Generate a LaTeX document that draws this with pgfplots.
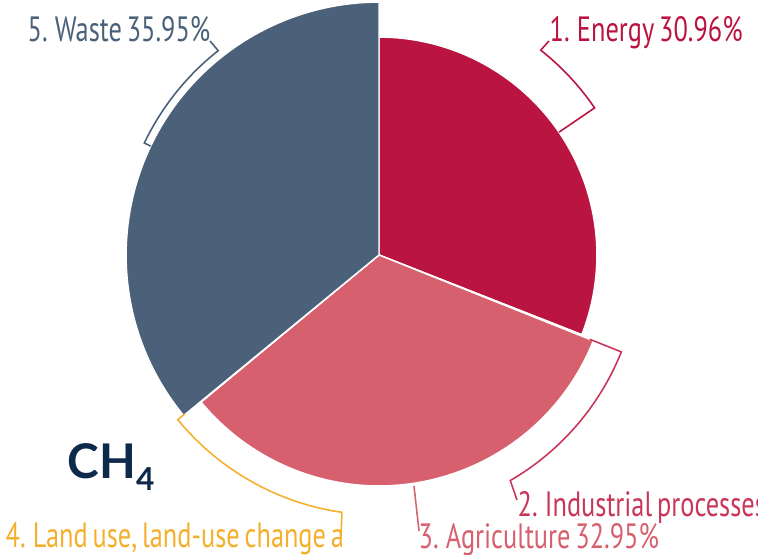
\documentclass[border=0pt]{standalone}
\usepackage{pgfplots}
\pgfplotsset{compat=1.18}
\usepackage{fontspec}
\setmainfont[FakeStretch=0.75, WordSpace=0.7]{PT Sans}
\newfontfamily\chfont{Lato}
\definecolor{energy}{HTML}{BA1441}
\definecolor{indus}{HTML}{C8375A}
\definecolor{agri}{HTML}{D6606E}
\definecolor{landuse}{HTML}{F4B02C}
\definecolor{waste}{HTML}{4B6179}
\definecolor{navy}{HTML}{0E2A4A}
\begin{document}
\begin{tikzpicture}
\begin{axis}[at={(0,0)}, anchor=south west, width=7.58cm, height=5.55cm,
  scale only axis, xmin=0, xmax=758, ymin=0, ymax=555, y dir=reverse,
  axis lines=none, clip=false]
% share (%) / radius (px) / colour
\foreach \val/\rad/\col [remember=\eang as \sang (initially 90)] in
  {30.96/218/energy, 0.10/228/indus, 32.95/231/agri, 0.04/251/landuse, 35.95/253/waste} {
  \pgfmathsetmacro\eang{\sang-3.6*\val}
  \pgfmathsetmacro\rr{\rad*0.01}
  \edef\tmp{\noexpand\fill[\col, draw=white, line width=0.4pt] (axis cs:379,255) -- ++(\sang:\rr cm)
     arc[start angle=\sang, end angle=\eang, radius=\rr cm] -- cycle;}
  \tmp
}
% brackets
\draw[energy, line width=0.45pt] (axis cs:379,255) ++(34.3:2.18cm) -- ++(34.3:0.43cm)
   arc[start angle=34.3, end angle=51.7, radius=2.61cm] -- (axis cs:549,41);
\draw[waste, line width=0.45pt] (axis cs:379,255) ++(154.5:2.53cm) -- ++(154.5:0.07cm)
   arc[start angle=154.5, end angle=128.2, radius=2.60cm] -- (axis cs:210,41);
\draw[indus, line width=0.45pt] (axis cs:379,255) ++(-21.8:2.27cm) -- ++(-21.8:0.34cm)
   arc[start angle=-21.8, end angle=-59.8, radius=2.61cm] -- (axis cs:517,500);
\draw[agri, line width=0.45pt] (axis cs:414,486) -- (axis cs:419,531);
\draw[landuse, line width=0.45pt] (axis cs:379,255) ++(-140.7:2.51cm) -- ++(-140.7:0.09cm)
   arc[start angle=-140.7, end angle=-98.2, radius=2.60cm] -- (axis cs:341,537);
% labels
\begingroup
\fontsize{6.7pt}{8pt}\selectfont
\node[energy, anchor=base west, inner sep=0pt] at (axis cs:549,42) {1. Energy 30.96\%};
\node[waste, anchor=base east, inner sep=0pt] at (axis cs:211,42) {5. Waste 35.95\%};
\node[indus, anchor=base west, inner sep=0pt] at (axis cs:517,517) {2. Industrial processes};
\node[agri, anchor=base west, inner sep=0pt] at (axis cs:418,549) {3. Agriculture 32.95\%};
\node[landuse, anchor=base west, inner sep=0pt] at (axis cs:5,548) {4. Land use, land-use change a};
\endgroup
\node[navy, anchor=base west, inner sep=0pt, font=\chfont\bfseries\fontsize{13.6pt}{15pt}\selectfont]
  at (axis cs:67,479) {CH\raisebox{-0.25em}{\fontsize{9pt}{10pt}\selectfont 4}};
\end{axis}
\pgfresetboundingbox
\useasboundingbox (0,0) rectangle (7.58cm,5.55cm);
\end{tikzpicture}
\end{document}
